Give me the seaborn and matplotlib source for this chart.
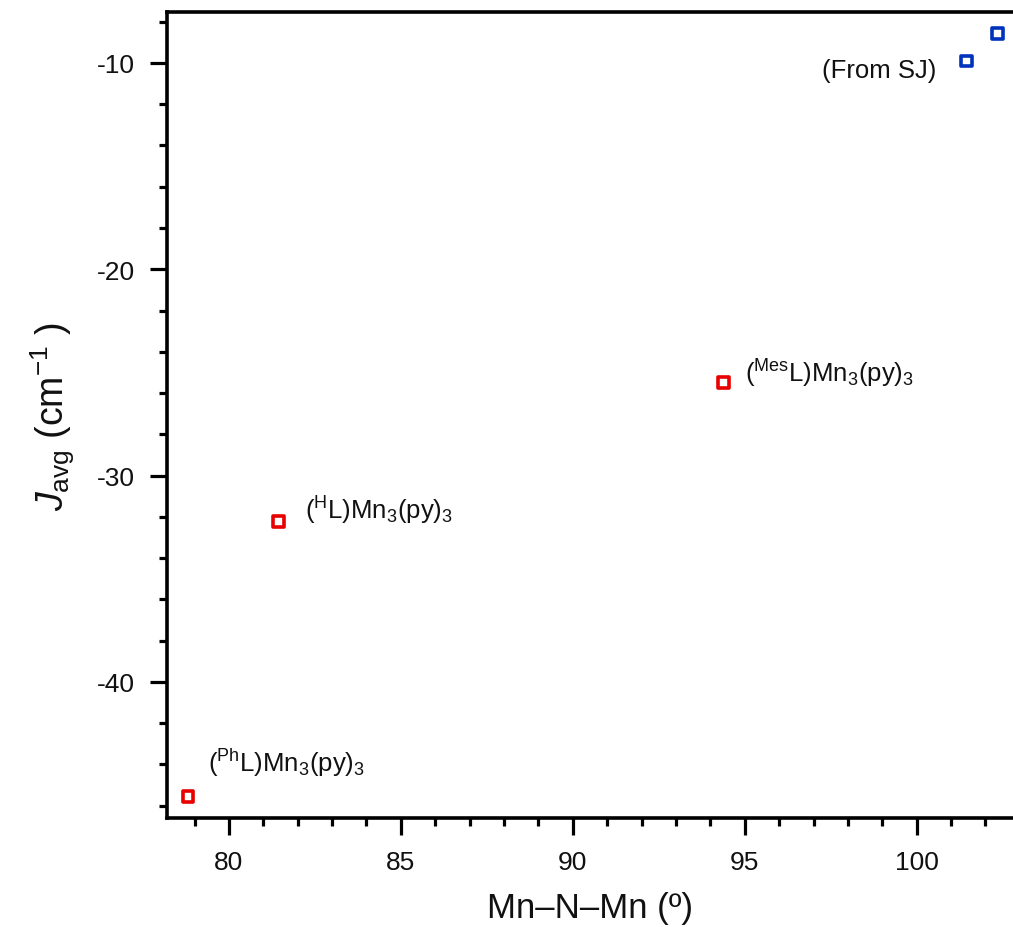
import matplotlib
matplotlib.use('Agg')
import matplotlib.pyplot as plt
from matplotlib.ticker import MultipleLocator
import pandas as pd
import seaborn as sns

# ── Datos ─────────────────────────────────────────────
compuestos = ['Ph', 'H', 'Mes']
angulo_rojo = [78.81, 81.45, 94.39]
j_rojo = [-45.57, -32.23, -25.48]

angulo_sj = [101.45, 102.35]
j_sj = [-9.90, -8.59]

etiquetas = [r'$(^{\mathrm{Ph}}\mathrm{L})\mathrm{Mn}_3(\mathrm{py})_3$',
             r'$(^{\mathrm{H}}\mathrm{L})\mathrm{Mn}_3(\mathrm{py})_3$',
             r'$(^{\mathrm{Mes}}\mathrm{L})\mathrm{Mn}_3(\mathrm{py})_3$']
pos_etiquetas = [(79.39, -44.31), (82.21, -32.08), (95.0, -25.44)]

# ── Estilo ─────────────────────────────────────────────
sns.set_theme(style='ticks')
plt.rcParams['font.family'] = ['Liberation Sans', 'DejaVu Sans']
plt.rcParams['mathtext.fontset'] = 'custom'
plt.rcParams['mathtext.rm'] = 'Liberation Sans'
plt.rcParams['mathtext.it'] = 'Liberation Sans:italic'
plt.rcParams['axes.unicode_minus'] = False

df_rojo = pd.DataFrame({'angulo': angulo_rojo, 'J': j_rojo, 'comp': compuestos})
df_sj = pd.DataFrame({'angulo': angulo_sj, 'J': j_sj})

fig = plt.figure(figsize=(10.13, 9.28), dpi=100)
ax = fig.add_axes([167 / 1013, 1 - 819 / 928, 1 - 167 / 1013, (819 - 13) / 928])

sns.scatterplot(data=df_rojo, x='angulo', y='J', marker='s', s=60,
                facecolor='none', edgecolor='#e80000', linewidth=2.6, ax=ax,
                zorder=3)
sns.scatterplot(data=df_sj, x='angulo', y='J', marker='s', s=60,
                facecolor='none', edgecolor='#0033bb', linewidth=2.6, ax=ax,
                zorder=3)

for txt, (x, y) in zip(etiquetas, pos_etiquetas):
    ax.text(x, y, txt, fontsize=18.5, va='baseline', ha='left', color='#111111')
ax.text(97.24, -10.68, '(From SJ)', fontsize=18.5, va='baseline', ha='left',
        color='#111111')

ax.set_xlim(78.2, 102.8)
ax.set_ylim(-46.6, -7.53)
ax.xaxis.set_major_locator(MultipleLocator(5))
ax.xaxis.set_minor_locator(MultipleLocator(1))
ax.yaxis.set_major_locator(MultipleLocator(10))
ax.yaxis.set_minor_locator(MultipleLocator(2))

for lado in ['left', 'bottom', 'top']:
    ax.spines[lado].set_linewidth(2.6)
    ax.spines[lado].set_color('black')
ax.spines['right'].set_visible(False)

ax.tick_params(which='major', direction='out', length=12, width=2.3,
               labelsize=19, pad=11, color='black', labelcolor='#111111')
ax.tick_params(which='minor', direction='out', length=6, width=2.3,
               color='black')
ax.tick_params(top=False, right=False, which='both')

ax.set_xlabel('Mn–N–Mn (º)', fontsize=25, labelpad=12, color='#111111')
ax.set_ylabel(r'$J_{\mathrm{avg}}$ (cm$^{-1}$ )', fontsize=27, labelpad=14,
              color='#111111')

fig.savefig('out.png', dpi=100)
plt.close(fig)
